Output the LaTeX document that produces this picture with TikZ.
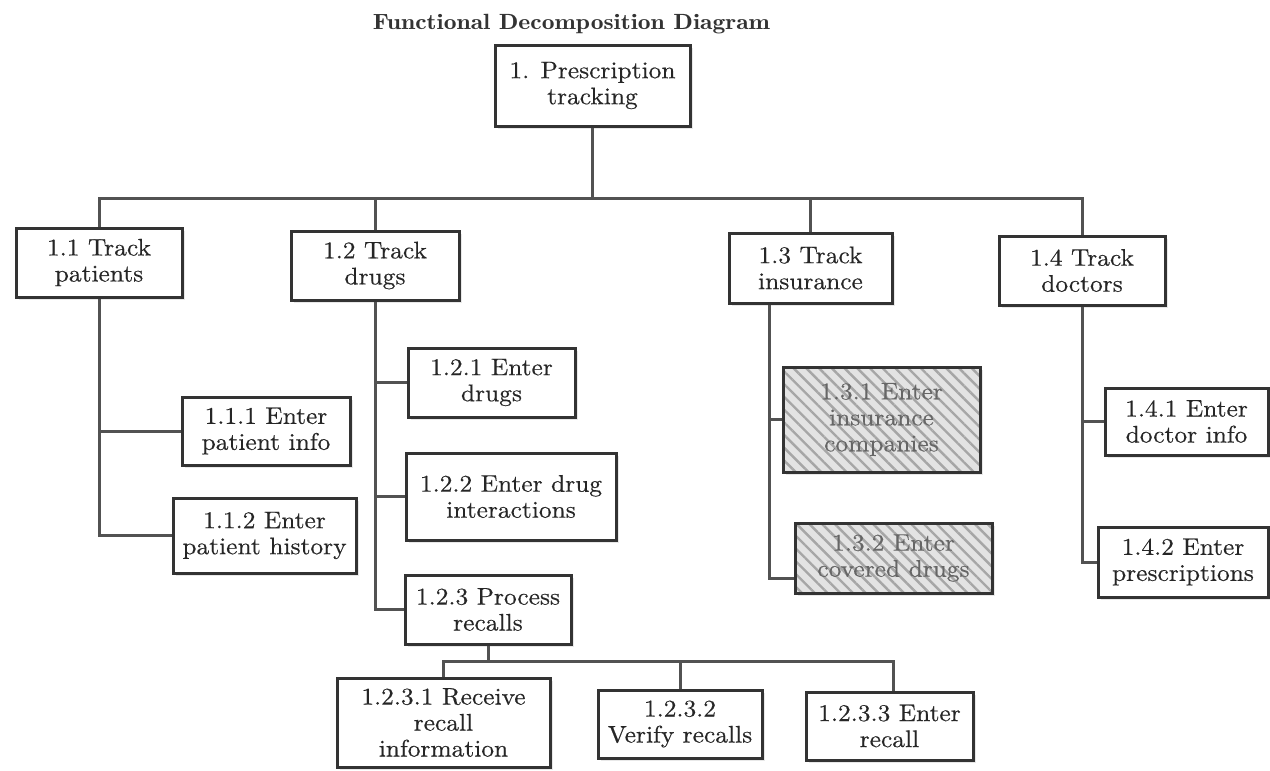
\documentclass[tikz,border=0pt]{standalone}
\usepackage{graphicx}
\usepackage{fontspec}
\newfontfamily\boxfont{lmroman10-regular.otf}[FakeStretch=1.06, FakeBold=0.4]
\newfontfamily\headfont{lmromandemi10-regular.otf}
\usetikzlibrary{patterns.meta,shadows}
\begin{document}
\begin{tikzpicture}[x=1pt,y=-1pt,
  sz/.style n args={2}{minimum width=#1, minimum height=#2},
  box/.style={draw=black!80, line width=3pt, fill=white, align=center,
    inner sep=0pt, font=\boxfont\fontsize{24}{26}\selectfont, text=black!85,
    drop shadow={opacity=0.18, shadow xshift=3pt, shadow yshift=-3pt}},
  hatchbox/.style={box, preaction={fill=gray!22},
    pattern={Lines[angle=-45,distance=9pt,line width=2.4pt]},
    pattern color=gray!70, text=black!60},
  link/.style={draw=black!68, line width=3pt, line join=miter},
  heading/.style={font=\headfont\fontsize{22}{24}\selectfont, text=black!80, inner sep=0pt}
]
% page frame
\useasboundingbox[fill=white] (0,0) rectangle (1270,771);

% title
\node[heading] (title) at (571.5,24)
  {\resizebox{397pt}{\height}{Functional Decomposition Diagram}};

% level 0 and level 1
\node[box, sz={195pt}{81pt}] (root) at (592.5,85.5) {1. Prescription\\tracking};
\node[box, sz={166pt}{69pt}] (n11) at (99,262.5) {1.1 Track\\patients};
\node[box, sz={168pt}{69pt}] (n12) at (375,265.5) {1.2 Track\\drugs};
\node[box, sz={163pt}{70pt}] (n13) at (810.5,268) {1.3 Track\\insurance};
\node[box, sz={166pt}{69pt}] (n14) at (1082,270.5) {1.4 Track\\doctors};

% level 2
\node[box, sz={168pt}{68pt}] (n111) at (266,431) {1.1.1 Enter\\patient info};
\node[box, sz={183pt}{75pt}] (n112) at (264.5,535.5) {1.1.2 Enter\\patient history};
\node[box, sz={167pt}{69pt}] (n121) at (491.5,382.5) {1.2.1 Enter\\drugs};
\node[box, sz={210pt}{87pt}] (n122) at (511,496.5) {1.2.2 Enter drug\\interactions};
\node[box, sz={166pt}{69pt}] (n123) at (488,609.5) {1.2.3 Process\\recalls};
\node[hatchbox, sz={197pt}{105pt}] (n131) at (881.5,419.5) {1.3.1 Enter\\insurance\\companies};
\node[hatchbox, sz={197pt}{70pt}] (n132) at (893.5,558) {1.3.2 Enter\\covered drugs};
\node[box, sz={163pt}{67pt}] (n141) at (1186.5,421.5) {1.4.1 Enter\\doctor info};
\node[box, sz={170pt}{70pt}] (n142) at (1183,562) {1.4.2 Enter\\prescriptions};

% level 3
\node[box, sz={213pt}{89pt}] (n1231) at (443.5,722.5) {1.2.3.1 Receive\\recall\\information};
\node[box, sz={164pt}{68pt}] (n1232) at (680,724) {1.2.3.2\\Verify recalls};
\node[box, sz={167pt}{68pt}] (n1233) at (889.5,726) {1.2.3.3 Enter\\recall};

% main bus
\coordinate (bus) at (0,198);
\draw[link] (root.south) -- (root.south |- bus);
\draw[link] (n11.north) -- (n11.north |- bus) -- (n14.north |- bus) -- (n14.north);
\draw[link] (n12.north) -- (n12.north |- bus);
\draw[link] (n13.north) -- (n13.north |- bus);

% 1.1 branch
\draw[link] (n11.south) |- (n112.west);
\draw[link] (n11.south |- n111.west) -- (n111.west);

% 1.2 branch
\draw[link] (n12.south) |- (n123.west);
\draw[link] (n12.south |- n121.west) -- (n121.west);
\draw[link] (n12.south |- n122.west) -- (n122.west);

% 1.3 branch
\coordinate (v13) at ([xshift=-41.5pt]n13.south);
\draw[link] (v13) |- ([yshift=16pt]n132.south west);
\draw[link] (v13 |- n131.west) -- (n131.west);

% 1.4 branch
\draw[link] (n14.south) |- (n142.west);
\draw[link] (n14.south |- n141.west) -- (n141.west);

% 1.2.3 sub-bus
\coordinate (bus2) at (0,661);
\draw[link] (n123.south) -- (n123.south |- bus2);
\draw[link] (n1231.north) -- (n1231.north |- bus2)
  -- ([xshift=4pt]n1233.north |- bus2) -- ([xshift=4pt]n1233.north);
\draw[link] (n1232.north) -- (n1232.north |- bus2);
\end{tikzpicture}
\end{document}
